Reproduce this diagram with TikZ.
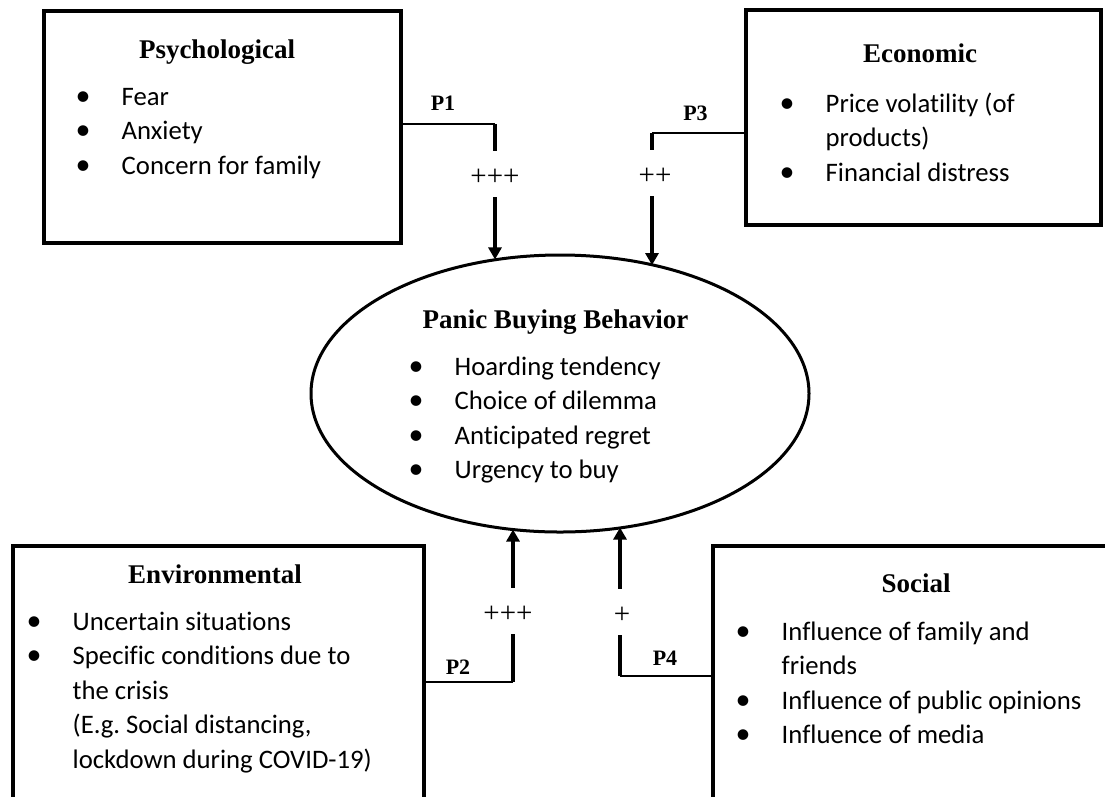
\documentclass[tikz,border=0pt]{standalone}
\usepackage{fontspec}
\setmainfont{Liberation Serif}
\newfontfamily\bodyfont[Ligatures=NoCommon]{Carlito}
\usetikzlibrary{arrows.meta,shapes.geometric}
\definecolor{ink}{HTML}{000000}
\newcommand{\bul}{\makebox[43.5pt][l]{\makebox[10pt]{\fontsize{30}{30}\selectfont\textbullet}}\strut}
\newcommand{\cont}{\hspace*{43.5pt}\strut}
\tikzset{
  factorbox/.style={rectangle, draw=ink, line width=4pt, inner sep=0pt, outer sep=0pt},
  pbbshape/.style={ellipse, draw=ink, line width=3pt, minimum width=498pt, minimum height=277pt, inner sep=0pt, outer sep=0pt},
  boxtitle/.style={anchor=base, inner sep=0pt, font=\bfseries\fontsize{27}{27}\selectfont},
  itemlist/.style={anchor=north west, inner sep=0pt, align=left, font=\bodyfont\fontsize{26.7}{34.5}\selectfont},
  plabel/.style={anchor=base, inner sep=0pt, font=\bfseries\fontsize{22}{22}\selectfont},
  sign/.style={anchor=base, inner sep=0pt, text height=34pt, text depth=12pt, font=\fontsize{29}{29}\selectfont},
  hlink/.style={draw=ink, line width=2pt},
  vlink/.style={draw=ink, line width=4pt},
  effect/.style={vlink, -{Triangle[width=13pt,length=12pt]}}
}

\begin{document}
\begin{tikzpicture}[x=1pt,y=-1pt]
  \useasboundingbox (0,0) rectangle (1105,796);
  \clip (0,0) rectangle (1105,796);

  \node[factorbox, minimum width=357pt, minimum height=232pt] (psych) at (222.5,127) {};
  \node[factorbox, minimum width=355pt, minimum height=215pt] (econ) at (923.5,117.5) {};
  \node[factorbox, minimum width=411.5pt, minimum height=284pt] (env) at (218.25,688) {};
  \node[factorbox, minimum width=437pt, minimum height=284pt] (social) at (931.5,688) {};
  \node[pbbshape] (pbb) at (560,393.5) {};

  \node[boxtitle] (psychT) at (217,58) {Psychological};
  \node[boxtitle] (econT) at (920,62) {Economic};
  \node[boxtitle] (pbbT) at (555.5,328) {Panic Buying Behavior};
  \node[boxtitle] (envT) at (215,583) {Environmental};
  \node[boxtitle] (socialT) at (916,592) {Social};

  \node[itemlist] (psychL) at (78,80.85) {\bul Fear\\ \bul Anxiety\\ \bul Concern for family};
  \node[itemlist] (econL) at (782,87.85) {\bul Price volatility (of\\ \cont products)\\ \bul Financial distress};
  \node[itemlist] (pbbL) at (411,350.85) {\bul Hoarding tendency\\ \bul Choice of dilemma\\ \bul Anticipated regret\\ \bul Urgency to buy};
  \node[itemlist] (envL) at (29,605.85) {\bul Uncertain situations\\ \bul Specific conditions due to\\ \cont the crisis\\ \cont (E.g.\ Social distancing,\\ \cont lockdown during COVID-19)};
  \node[itemlist] (socialL) at (738,615.85) {\bul Influence of family and\\ \cont friends\\ \bul Influence of public opinions\\ \bul Influence of media};

  \coordinate (c1) at (495,124);
  \coordinate (c3) at (652,133);
  \coordinate (c2) at (513,682);
  \coordinate (c4) at (620,676);

  \node[sign] (s1) at (495,185) {+++};
  \node[sign] (s3) at (655,184) {++};
  \node[sign] (s2) at (508,622) {+++};
  \node[sign] (s4) at (622,623) {+};

  \node[plabel] (p1) at (443,110) {P1};
  \node[plabel] (p3) at (695.5,120) {P3};
  \node[plabel] (p2) at (458,674) {P2};
  \node[plabel] (p4) at (665,665) {P4};

  \draw[hlink] (psych.east |- c1) -- (c1);
  \draw[vlink] (c1) -- (c1 |- s1.north);
  \draw[effect] (c1 |- s1.south) -- (c1 |- pbb.115.9);

  \draw[hlink] (econ.west |- c3) -- (c3);
  \draw[vlink] (c3) -- (c3 |- s3.north);
  \draw[effect] (c3 |- s3.south) -- (c3 |- pbb.54.4);

  \draw[hlink] (env.east |- c2) -- (c2);
  \draw[vlink] (c2) -- (c2 |- s2.south);
  \draw[effect] (c2 |- s2.north) -- (c2 |- pbb.-109.1);

  \draw[hlink] (social.west |- c4) -- (c4);
  \draw[vlink] (c4) -- (c4 |- s4.south);
  \draw[effect] (c4 |- s4.north) -- (c4 |- pbb.-65.9);
\end{tikzpicture}
\end{document}
